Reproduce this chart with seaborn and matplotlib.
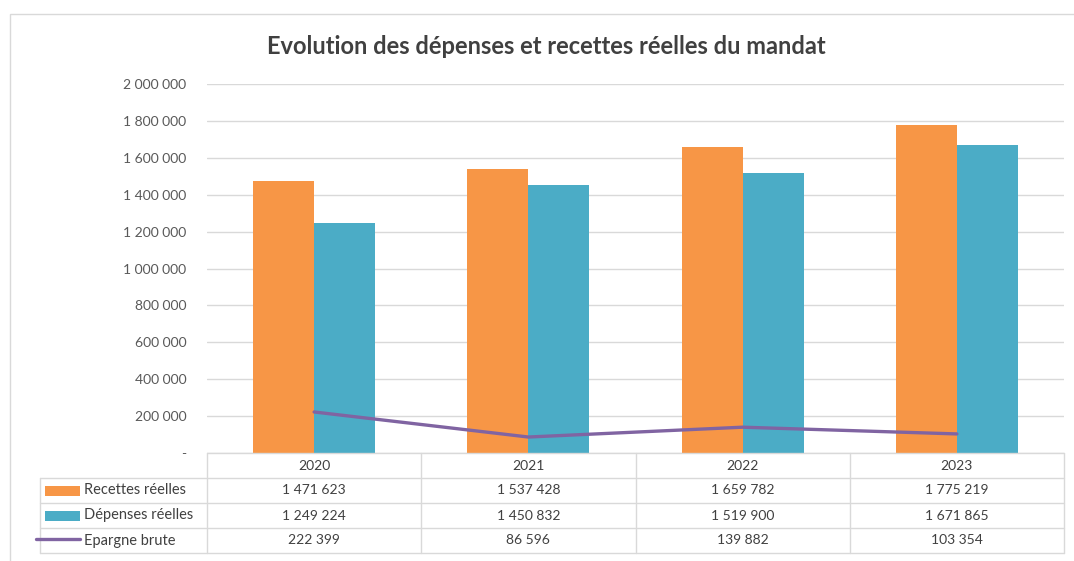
import matplotlib
matplotlib.use("Agg")
import matplotlib.pyplot as plt
import seaborn as sns
import pandas as pd
import numpy as np
from matplotlib.patches import Rectangle
from matplotlib.lines import Line2D

# data
annees = ["2020", "2021", "2022", "2023"]
recettes = [1471623, 1537428, 1659782, 1775219]
depenses = [1249224, 1450832, 1519900, 1671865]
epargne = [222399, 86596, 139882, 103354]
series = ["Recettes réelles", "Dépenses réelles"]
couleurs = ["#F79646", "#4BACC6"]
couleur_ligne = "#8064A2"
y_ticks = [0, 200000, 400000, 600000, 800000, 1000000, 1200000, 1400000, 1600000, 1800000, 2000000]

W, H = 1074, 561


def fmt(v):
    if v == 0:
        return "-"
    return f"{v:,}".replace(",", " ")


sns.set_theme(style="white")
plt.rcParams["font.family"] = ["Lato", "DejaVu Sans"]

fig = plt.figure(figsize=(W / 100, H / 100), dpi=100)

# outer frame of the chart
fig.patches.append(Rectangle((10 / W, -0.01), (W - 9) / W, 1 - 14 / H + 0.01,
                             transform=fig.transFigure, fill=False,
                             edgecolor="#D9D9D9", lw=1))

x0, x1 = 207, 1064
ytop, ybot = 84, 453
ax = fig.add_axes([x0 / W, 1 - ybot / H, (x1 - x0) / W, (ybot - ytop) / H])

df = pd.DataFrame({
    "annee": annees * 2,
    "valeur": recettes + depenses,
    "serie": [series[0]] * 4 + [series[1]] * 4,
})
sns.barplot(data=df, x="annee", y="valeur", hue="serie", palette=couleurs,
            width=0.57, saturation=1, linewidth=0, ax=ax, legend=False)
sns.lineplot(x=np.arange(len(annees)), y=epargne, color=couleur_ligne, lw=2.4, ax=ax)

ax.set_xlim(-0.5, 3.5)
ax.set_ylim(0, 2000000)
ax.set_yticks(y_ticks)
ax.set_yticklabels([fmt(v) for v in y_ticks], fontsize=10, color="#595959")
ax.tick_params(axis="y", length=0, pad=15)
ax.set_xticks([])
ax.set_xlabel("")
ax.set_ylabel("")
ax.yaxis.grid(True, color="#D9D9D9", lw=1)
ax.set_axisbelow(True)
for s in ax.spines.values():
    s.set_visible(False)

# data table below the plot
row_h = 25
tx = fig.add_axes([x0 / W, 1 - (ybot + 4 * row_h) / H, (x1 - x0) / W, 4 * row_h / H])
tx.set_xlim(-0.5, 3.5)
tx.set_ylim(4, 0)
tx.axis("off")
col_w = (x1 - x0) / 4
left = -0.5 - (x0 - 40) / col_w
gc = "#D9D9D9"
txt_c = "#404040"
fs = 10

# horizontal lines
tx.plot([-0.5, 3.5], [0, 0], color=gc, lw=1, clip_on=False)
for r in [1, 2, 3, 4]:
    tx.plot([left, 3.5], [r, r], color=gc, lw=1, clip_on=False)
# vertical lines
tx.plot([left, left], [1, 4], color=gc, lw=1, clip_on=False)
for c in range(5):
    tx.plot([c - 0.5, c - 0.5], [0, 4], color=gc, lw=1, clip_on=False)

for i, a in enumerate(annees):
    tx.text(i, 0.5, a, ha="center", va="center", fontsize=fs, color=txt_c)
    for r, vals in enumerate([recettes, depenses, epargne]):
        tx.text(i, r + 1.5, fmt(vals[i]), ha="center", va="center", fontsize=fs, color=txt_c)

labels = [series[0], series[1], "Epargne brute"]
px = 1 / col_w
for r, lab in enumerate(labels):
    yc = r + 1.5
    if r < 2:
        tx.add_patch(Rectangle((left + 5 * px, yc - 0.2), 35 * px, 0.4,
                               facecolor=couleurs[r], edgecolor="none", clip_on=False))
    else:
        tx.add_line(Line2D([left - 4 * px, left + 40 * px], [yc - 0.08, yc - 0.08],
                           color=couleur_ligne, lw=2.4, clip_on=False))
    tx.text(left + 44 * px, yc, lab, ha="left", va="center", fontsize=fs + 0.5,
            color=txt_c)

fig.text(546 / W, 1 - 47 / H, "Evolution des dépenses et recettes réelles du mandat",
         ha="center", va="center", fontsize=17, fontweight="bold", color="#404040")

fig.savefig("out.png", dpi=100, facecolor="white")
